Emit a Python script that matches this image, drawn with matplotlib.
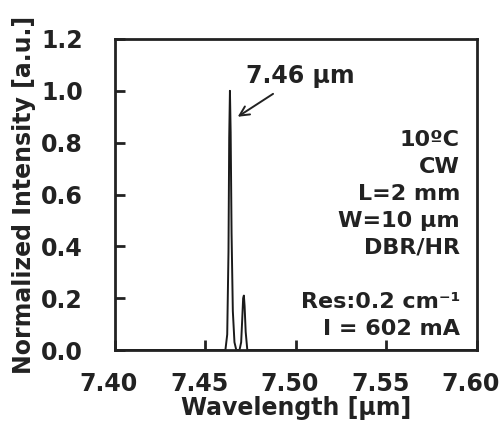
import matplotlib
matplotlib.use("Agg")
import matplotlib.pyplot as plt
import matplotlib.transforms as mtransforms

# spectrum points (wavelength in um, normalized intensity)
wavelength = [7.400, 7.4610, 7.4620, 7.4627, 7.4631, 7.4635, 7.4639, 7.4644,
              7.4651, 7.4660, 7.4670, 7.4688, 7.4697, 7.4703, 7.4708, 7.4712,
              7.4716, 7.4722, 7.4731, 7.600]
intensity = [0.0, 0.0, 0.06, 0.38, 0.82, 1.00, 0.84, 0.45,
             0.15, 0.03, 0.0, 0.0, 0.03, 0.12, 0.20, 0.21,
             0.17, 0.07, 0.0, 0.0]

peak_label = "7.46 µm"
peak_pos = (7.4678, 0.90)
conditions = ["10ºC", "CW", "L=2 mm", "W=10 µm", "DBR/HR", "", "Res:0.2 cm⁻¹", "I = 602 mA"]

xticks = [7.40, 7.45, 7.50, 7.55, 7.60]
yticks = [0.0, 0.2, 0.4, 0.6, 0.8, 1.0, 1.2]

plt.rcParams['font.family'] = ['DejaVu Sans']
plt.rcParams['font.weight'] = 'bold'

fig = plt.figure(figsize=(5.02, 4.21), dpi=100)
ax = fig.add_axes([115 / 502, 1 - 350 / 421, 362 / 502, 311 / 421])

ax.plot(wavelength, intensity, color='#1a1a1a', linewidth=1.4)

ax.set_xlim(7.40, 7.60)
ax.set_ylim(0.0, 1.2)
ax.set_xticks(xticks)
ax.set_yticks(yticks)
ax.set_xticklabels([f"{t:.2f}" for t in xticks])
ax.set_yticklabels([f"{t:.1f}" for t in yticks])
ax.tick_params(direction='in', length=7, width=2, labelsize=17, colors='#222222')
ax.tick_params(axis='x', pad=16)
ax.tick_params(axis='y', pad=23)
# labels sit a little left of their ticks in the original
shift = mtransforms.ScaledTranslation(-6 / 100, 0, fig.dpi_scale_trans)
for lab in ax.get_xticklabels():
    lab.set_transform(lab.get_transform() + shift)
for sp in ax.spines.values():
    sp.set_linewidth(2)
    sp.set_color('#222222')

ax.set_xlabel("Wavelength [µm]", fontsize=17, fontweight='bold', color='#222222',
              labelpad=0)
ax.set_ylabel("Normalized Intensity [a.u.]", fontsize=17, fontweight='bold',
              color='#222222', labelpad=4)

ax.annotate(peak_label, xy=peak_pos, xytext=(7.4725, 1.057),
            fontsize=17, fontweight='bold', color='#222222', ha='left', va='center',
            arrowprops=dict(arrowstyle='->', color='#222222', lw=1.4,
                            shrinkA=4, shrinkB=0))

y0 = 0.81
step = 0.104
for i, txt in enumerate(conditions):
    if txt:
        ax.text(7.5906, y0 - i * step, txt, fontsize=16, fontweight='bold',
                color='#222222', ha='right', va='center')

fig.savefig("out.png", dpi=100)
